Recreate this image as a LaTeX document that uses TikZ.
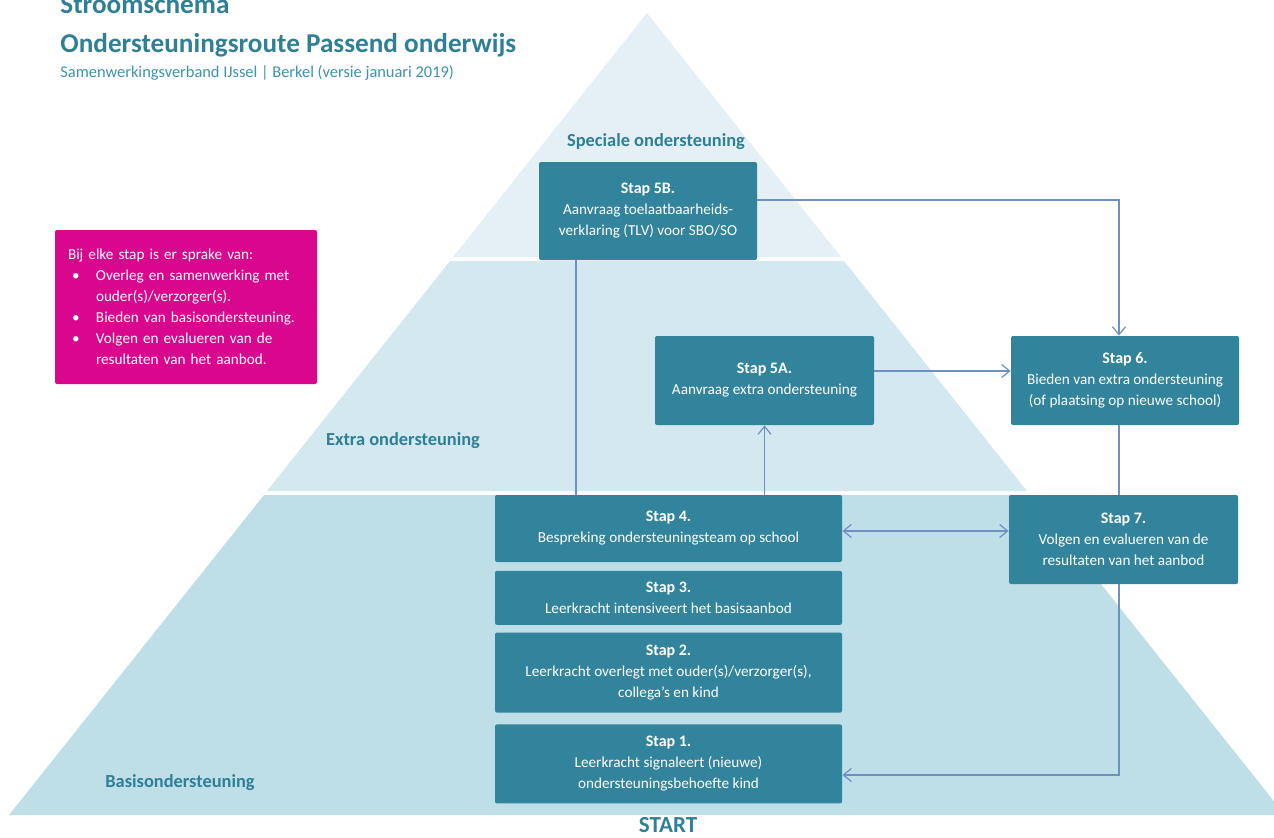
\documentclass[tikz,border=0pt]{standalone}
\usepackage{fontspec}
\setmainfont{Carlito}
\usetikzlibrary{positioning,arrows.meta,calc}
\definecolor{stapteal}{HTML}{31849B}
\definecolor{titelteal}{HTML}{2F7F96}
\definecolor{subteal}{HTML}{3D93AB}
\definecolor{laagtop}{HTML}{E4F0F5}
\definecolor{laagmid}{HTML}{D3E8EF}
\definecolor{laagbasis}{HTML}{BEDFE8}
\definecolor{pijlblauw}{HTML}{6E91C4}
\definecolor{inforoze}{HTML}{D9078D}
\newcommand{\stapkop}[1]{{\bfseries\fontsize{8}{10.5}\selectfont #1}}
\newcommand{\punt}{\makebox[14pt][l]{\hspace{2pt}\textbullet}}
\tikzset{
  stap/.style={rectangle, fill=stapteal, text=white, align=center, rounded corners=1pt,
    font=\fontsize{7.6}{10.5}\selectfont, inner sep=2pt},
  laag/.style={font=\bfseries\fontsize{9.2}{11}\selectfont, text=titelteal},
  pijl/.style={draw=pijlblauw, line width=0.6pt, -{Straight Barb[length=4pt,width=6.5pt]}},
  pijlbeide/.style={draw=pijlblauw, line width=0.6pt,
    {Straight Barb[length=4pt,width=6.5pt]}-{Straight Barb[length=4pt,width=6.5pt]}},
  lijn/.style={draw=pijlblauw, line width=0.6pt}
}
\begin{document}
\begin{tikzpicture}[x=0.5pt,y=-0.5pt]
    \useasboundingbox (0,0) rectangle (1274,837);
    % Piramide
    \fill[laagtop] (647,13) -- (453,257) -- (841,257) -- cycle;
    \fill[laagmid] (450,261) -- (267,491) -- (1027,491) -- (844,261) -- cycle;
    \fill[laagbasis] (264,495) -- (9,815) -- (1285,815) -- (1030,495) -- cycle;
    % Kop
    \node[anchor=base west, inner sep=0, text=titelteal, font=\bfseries\fontsize{13.6}{15}\selectfont] (kop1) at (60,13) {Stroomschema};
    \node[anchor=base west, inner sep=0, text=titelteal, font=\bfseries\fontsize{13.6}{15}\selectfont] (kop2) at (60,52) {Ondersteuningsroute Passend onderwijs};
    \node[anchor=base west, inner sep=0, text=subteal, font=\fontsize{8.2}{9}\selectfont] (kop3) at (60,77) {Samenwerkingsverband IJssel | Berkel (versie januari 2019)};
    % Lagen
    \node[laag] (lspec) at (656,142) {Speciale ondersteuning};
    \node[laag] (lextra) at (403,441) {Extra ondersteuning};
    \node[laag] (lbasis) at (180,783) {Basisondersteuning};
    \node[laag, font=\bfseries\fontsize{11.5}{13}\selectfont, inner sep=1pt] (start) at (668,825) {START};
    % Info
    \node[fill=inforoze, text=white, rounded corners=1pt, minimum width=131pt, minimum height=77pt,
      text width=118pt, align=left, font=\fontsize{7.6}{10.5}\selectfont] (info) at (186,307)
      {Bij elke stap is er sprake van:\\
       \punt Overleg en samenwerking met\\
       \hspace*{14pt}ouder(s)/verzorger(s).\\
       \punt Bieden van basisondersteuning.\\
       \punt Volgen en evalueren van de\\
       \hspace*{14pt}resultaten van het aanbod.};
    % Stappen
    \node[stap, minimum width=109pt, minimum height=49pt] (s5b) at (648,211)
      {\stapkop{Stap 5B.}\\Aanvraag toelaatbaarheids-\\verklaring (TLV) voor SBO/SO};
    \node[stap, minimum width=109.5pt, minimum height=44.5pt] (s5a) at (764.5,380.5)
      {\stapkop{Stap 5A.}\\Aanvraag extra ondersteuning};
    \node[stap, minimum width=114pt, minimum height=44.5pt] (s6) at (1125,380.5)
      {\stapkop{Stap 6.}\\Bieden van extra ondersteuning\\(of plaatsing op nieuwe school)};
    \node[stap, minimum width=114.5pt, minimum height=44.5pt] (s7) at (1123.5,539.5)
      {\stapkop{Stap 7.}\\Volgen en evalueren van de\\resultaten van het aanbod};
    \node[stap, minimum width=173.5pt, minimum height=33.5pt] (s4) at (668.5,528.5)
      {\stapkop{Stap 4.}\\Bespreking ondersteuningsteam op school};
    \node[stap, minimum width=173.5pt, minimum height=27pt, below=4pt of s4] (s3)
      {\stapkop{Stap 3.}\\Leerkracht intensiveert het basisaanbod};
    \node[stap, minimum width=173.5pt, minimum height=40pt, below=3.5pt of s3] (s2)
      {\stapkop{Stap 2.}\\Leerkracht overlegt met ouder(s)/verzorger(s),\\collega’s en kind};
    \node[stap, minimum width=173.5pt, minimum height=39.5pt, below=5.5pt of s2] (s1)
      {\stapkop{Stap 1.}\\Leerkracht signaleert (nieuwe)\\ondersteuningsbehoefte kind};
    % Verbindingen
    \coordinate (k56) at (1119,200);
    \coordinate (k54) at (576,260);
    \coordinate (k6) at (0,371);
    \coordinate (k67) at (1119,0);
    \coordinate (k47) at (0,531);
    \coordinate (k71) at (1119,775);
    \draw[pijl] (s5b.east |- k56) -- (k56) -- (k56 |- s6.north);
    \draw[lijn] (k54 |- s5b.south) -- (k54 |- s4.north);
    \draw[pijl] (s5a.south |- s4.north) -- (s5a.south);
    \draw[pijl] (s5a.east |- k6) -- (s6.west |- k6);
    \draw[lijn] (k67 |- s6.south) -- (k67 |- s7.north);
    \draw[pijlbeide] (s4.east |- k47) -- (s7.west |- k47);
    \draw[pijl] (k71 |- s7.south) -- (k71) -- (s1.east |- k71);
\end{tikzpicture}
\end{document}
